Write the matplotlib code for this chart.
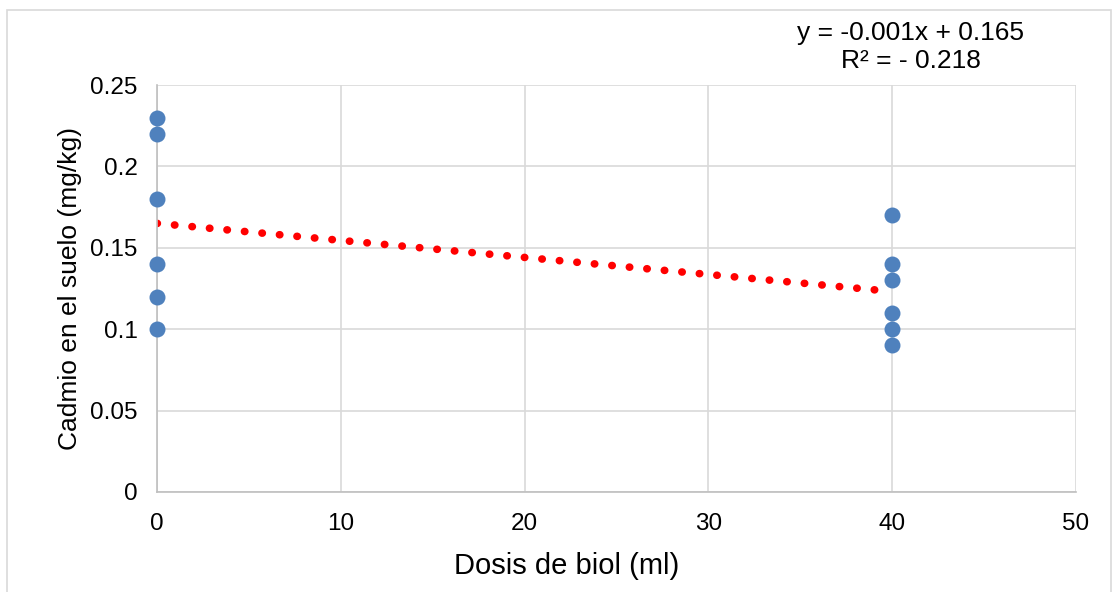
import matplotlib.pyplot as plt
from matplotlib.patches import Rectangle

plt.rcParams['font.family'] = ['Liberation Sans', 'DejaVu Sans']

# datos
dosis_0 = [0, 0, 0, 0, 0, 0]
cadmio_0 = [0.23, 0.22, 0.18, 0.14, 0.12, 0.10]
dosis_40 = [40, 40, 40, 40, 40, 40]
cadmio_40 = [0.17, 0.14, 0.13, 0.11, 0.10, 0.09]
tend_x = [0, 39.2]
tend_y = [0.165, 0.124]
xticks = [0, 10, 20, 30, 40, 50]
yticks = [0, 0.05, 0.1, 0.15, 0.2, 0.25]
ylabels = ['0', '0.05', '0.1', '0.15', '0.2', '0.25']

fig = plt.figure(figsize=(11.15, 5.92), dpi=100)
ax = fig.add_axes([0.1408, 0.169, 0.8242, 0.6874])

fig.patches.append(Rectangle((0.0063, -0.01), 0.9901, 0.993, transform=fig.transFigure,
                             fill=False, edgecolor='#d9d9d9', linewidth=1.2))

ax.plot(tend_x, tend_y, linestyle=(0, (0.05, 2.25)), color='#ff0000', linewidth=5.5,
        dash_capstyle='round', zorder=2)
ax.plot(dosis_0 + dosis_40, cadmio_0 + cadmio_40, 'o', color='#4f81bd', markersize=11.5,
        markeredgewidth=0, zorder=3, clip_on=False)

ax.set_xlim(0, 50)
ax.set_ylim(0, 0.25)
ax.set_xticks(xticks)
ax.set_yticks(yticks)
ax.set_yticklabels(ylabels)
ax.grid(True, color='#d9d9d9', linewidth=1.2)
ax.set_axisbelow(True)
for s in ['top', 'right']:
    ax.spines[s].set_visible(False)
for s in ['left', 'bottom']:
    ax.spines[s].set_color('#bfbfbf')
    ax.spines[s].set_linewidth(1.2)
ax.tick_params(length=0, labelsize=17.5)
ax.tick_params(axis='x', pad=15)
ax.tick_params(axis='y', pad=14)

ax.set_xlabel('Dosis de biol (ml)', fontsize=21)
ax.xaxis.set_label_coords(0.446, -0.148)
ax.set_ylabel('Cadmio en el suelo (mg/kg)', fontsize=19, labelpad=6)

fig.text(0.8166, 0.944, 'y = -0.001x + 0.165', ha='center', va='center', fontsize=19)
fig.text(0.8166, 0.897, 'R² = - 0.218', ha='center', va='center', fontsize=19)

fig.savefig('out.png', dpi=100)
